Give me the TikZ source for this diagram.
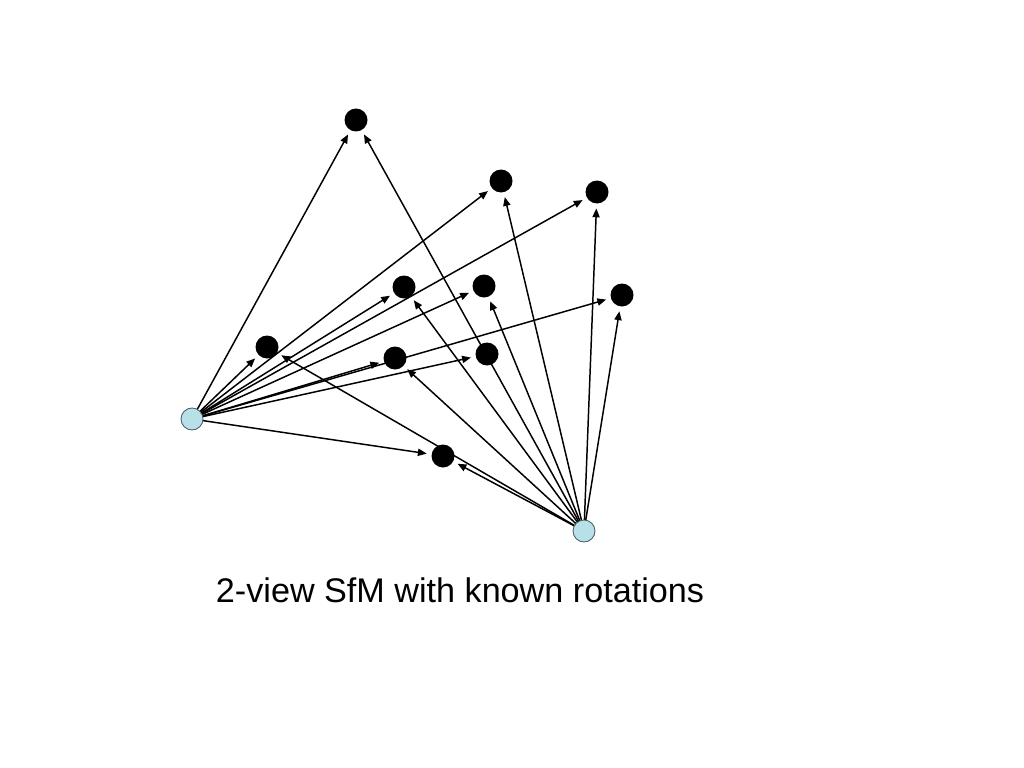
\documentclass[tikz,border=0pt]{standalone}
\usepackage{fontspec}
\setmainfont{Liberation Sans}
\usepackage{tikz}
\usetikzlibrary{arrows.meta,backgrounds}
\definecolor{camblue}{RGB}{184,224,232}
\definecolor{camedge}{RGB}{70,90,100}

\begin{document}
\begin{tikzpicture}[x=0.025cm,y=-0.025cm,
		pt/.style={circle,fill=black,minimum size=23*0.025cm,inner sep=0pt,outer sep=5*0.025cm},
		cam/.style={circle,fill=camblue,draw=camedge,line width=0.6pt,minimum size=22*0.025cm,inner sep=0pt},
		ray/.style={line width=1.05pt,-{Triangle[length=2.2mm,width=1.8mm]}}]
		\useasboundingbox (0,0) rectangle (1024,768);
		\node[cam] (A) at (192,419) {};
		\node[cam] (B) at (584,531) {};
		\node[pt] (p1) at (356,120) {};
		\node[pt] (p2) at (501,181) {};
		\node[pt] (p3) at (597,192) {};
		\node[pt] (p4) at (404,287) {};
		\node[pt] (p5) at (484,286) {};
		\node[pt] (p6) at (622,295) {};
		\node[pt] (p7) at (267,347) {};
		\node[pt] (p8) at (395,358) {};
		\node[pt] (p9) at (487,354) {};
		\node[pt] (p10) at (443,456) {};
		\begin{pgfonlayer}{background}
		\draw[ray] (A.center) -- (p1);
		\draw[ray] (A.center) -- (p2);
		\draw[ray] (A.center) -- (p3);
		\draw[ray] (A.center) -- (p4);
		\draw[ray] (A.center) -- (p5);
		\draw[ray] (A.center) -- (p6);
		\draw[ray] (A.center) -- (p7);
		\draw[ray] (A.center) -- (p8);
		\draw[ray] (A.center) -- (p9);
		\draw[ray] (A.center) -- (p10);
		\draw[ray] (B.center) -- (p1);
		\draw[ray] (B.center) -- (p2);
		\draw[ray] (B.center) -- (p3);
		\draw[ray] (B.center) -- (p4);
		\draw[ray] (B.center) -- (p5);
		\draw[ray] (B.center) -- (p6);
		\draw[ray] (B.center) -- (p7);
		\draw[ray] (B.center) -- (p8);
		\draw[ray] (B.center) -- (p10);
		\end{pgfonlayer}
		\node[anchor=base,font=\fontsize{24.3}{29}\selectfont] (title) at (460,602) {2-view SfM with known rotations};
	\end{tikzpicture}
\end{document}
